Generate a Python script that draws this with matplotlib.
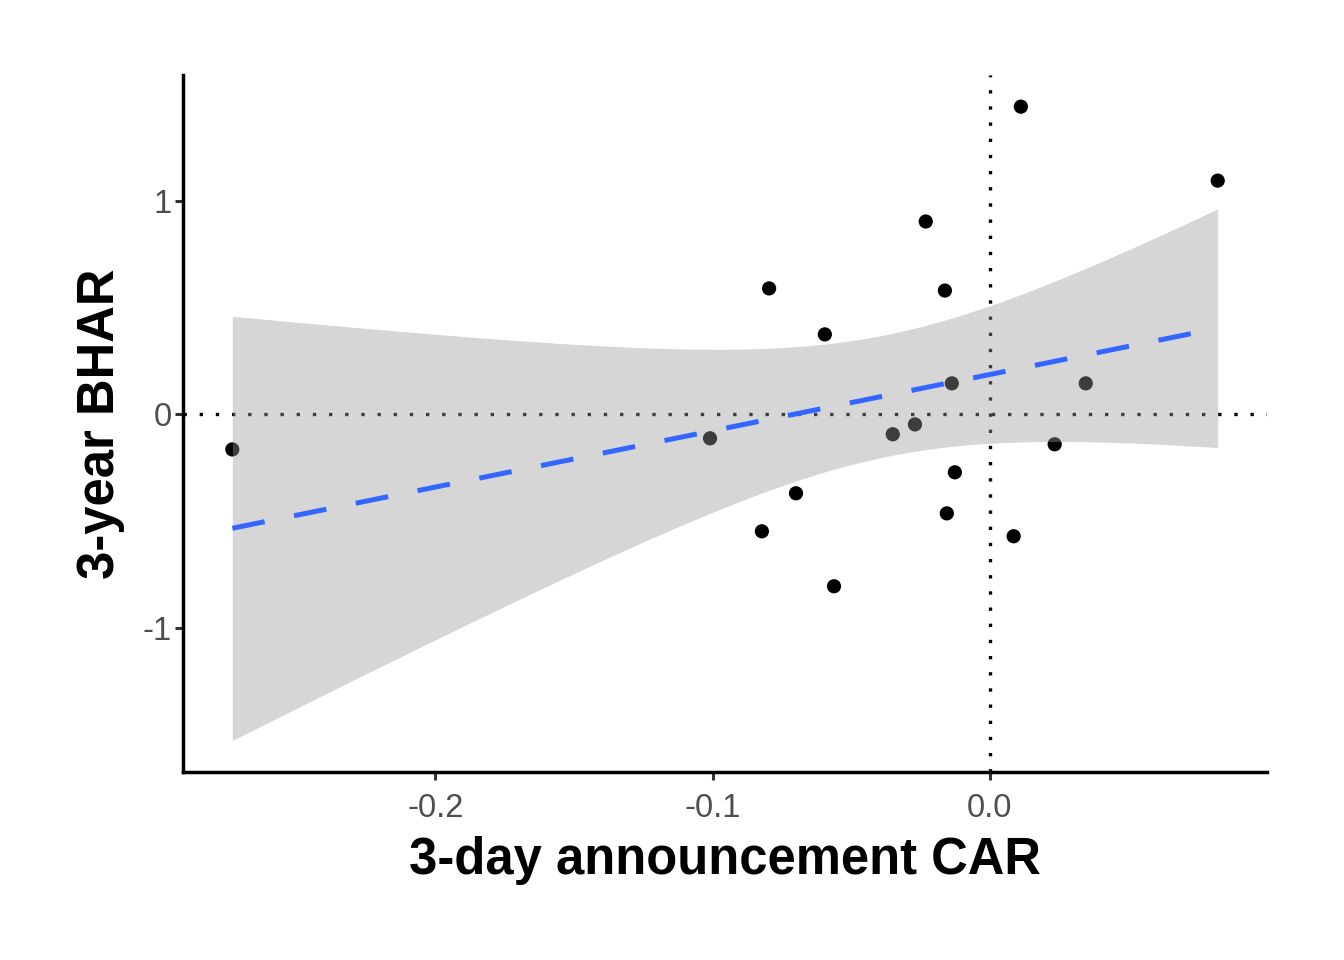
import matplotlib
matplotlib.use('Agg')
import matplotlib.pyplot as plt
import numpy as np

plt.rcParams['font.family'] = ['Liberation Sans', 'DejaVu Sans']

# 3-day announcement CAR vs 3-year BHAR
car = np.array([-0.2732, -0.1009, -0.0796, -0.0822, -0.0699, -0.0595, -0.0562,
                -0.0350, -0.0270, -0.0231, -0.0162, -0.0155, -0.0137, -0.0126,
                0.0086, 0.0112, 0.0234, 0.0346, 0.0822])
bhar = np.array([-0.164, -0.112, 0.589, -0.547, -0.369, 0.374, -0.804,
                 -0.093, -0.047, 0.902, 0.579, -0.463, 0.145, -0.271,
                 -0.570, 1.439, -0.140, 0.145, 1.093])
x_ticks = [-0.2, -0.1, 0.0]
x_tick_labels = ['-0.2', '-0.1', '0.0']
y_ticks = [-1, 0, 1]
y_tick_labels = ['-1', '0', '1']

# linear fit with 95% confidence band (like geom_smooth(method='lm'))
n = len(car)
slope, intercept = np.polyfit(car, bhar, 1)
resid = bhar - (intercept + slope * car)
s = np.sqrt(np.sum(resid ** 2) / (n - 2))
t_crit = 2.1098  # t(0.975, df=17)
xs = np.linspace(car.min(), car.max(), 80)
ys = intercept + slope * xs
se = s * np.sqrt(1 / n + (xs - car.mean()) ** 2 / np.sum((car - car.mean()) ** 2))
lo = ys - t_crit * se
hi = ys + t_crit * se

fig = plt.figure(figsize=(13.44, 9.6), dpi=100)
ax = fig.add_axes([0.1362, 0.1958, 0.8065, 0.7261])

ax.axhline(0, color='black', lw=2.4, linestyle=(0, (1, 3.85)), zorder=1)
ax.axvline(0, color='black', lw=2.4, linestyle=(0, (1, 3.85)), zorder=1)
ax.scatter(car, bhar, s=105, color='black', edgecolors='none', zorder=2)
ax.fill_between(xs, lo, hi, color='#999999', alpha=0.4, lw=0, zorder=3)
ax.plot(xs, ys, color='#3366FF', lw=3.6, linestyle=(0, (6.6, 6.0)),
        solid_capstyle='butt', dash_capstyle='butt', zorder=4)

xr = car.max() - car.min()
ax.set_xlim(car.min() - 0.05 * xr, car.max() + 0.05 * xr)
ymin = min(lo.min(), bhar.min())
ymax = max(hi.max(), bhar.max())
yr = ymax - ymin
ax.set_ylim(ymin - 0.05 * yr, ymax + 0.05 * yr)

ax.set_xticks(x_ticks)
ax.set_xticklabels(x_tick_labels)
ax.set_yticks(y_ticks)
ax.set_yticklabels(y_tick_labels)

for side in ['top', 'right']:
    ax.spines[side].set_visible(False)
for side in ['left', 'bottom']:
    ax.spines[side].set_linewidth(2.5)
    ax.spines[side].set_color('black')
ax.tick_params(axis='both', length=5.8, width=2.2, color='#333333',
               labelsize=23.5, labelcolor='#4D4D4D')
ax.tick_params(axis='x', pad=9)
ax.tick_params(axis='y', pad=2)

ax.set_xlabel('3-day announcement CAR', fontsize=36.5, fontweight='bold', labelpad=9)
ax.set_ylabel('3-year BHAR', fontsize=36.5, fontweight='bold', labelpad=13)

fig.savefig('out.png', dpi=100, facecolor='white')
